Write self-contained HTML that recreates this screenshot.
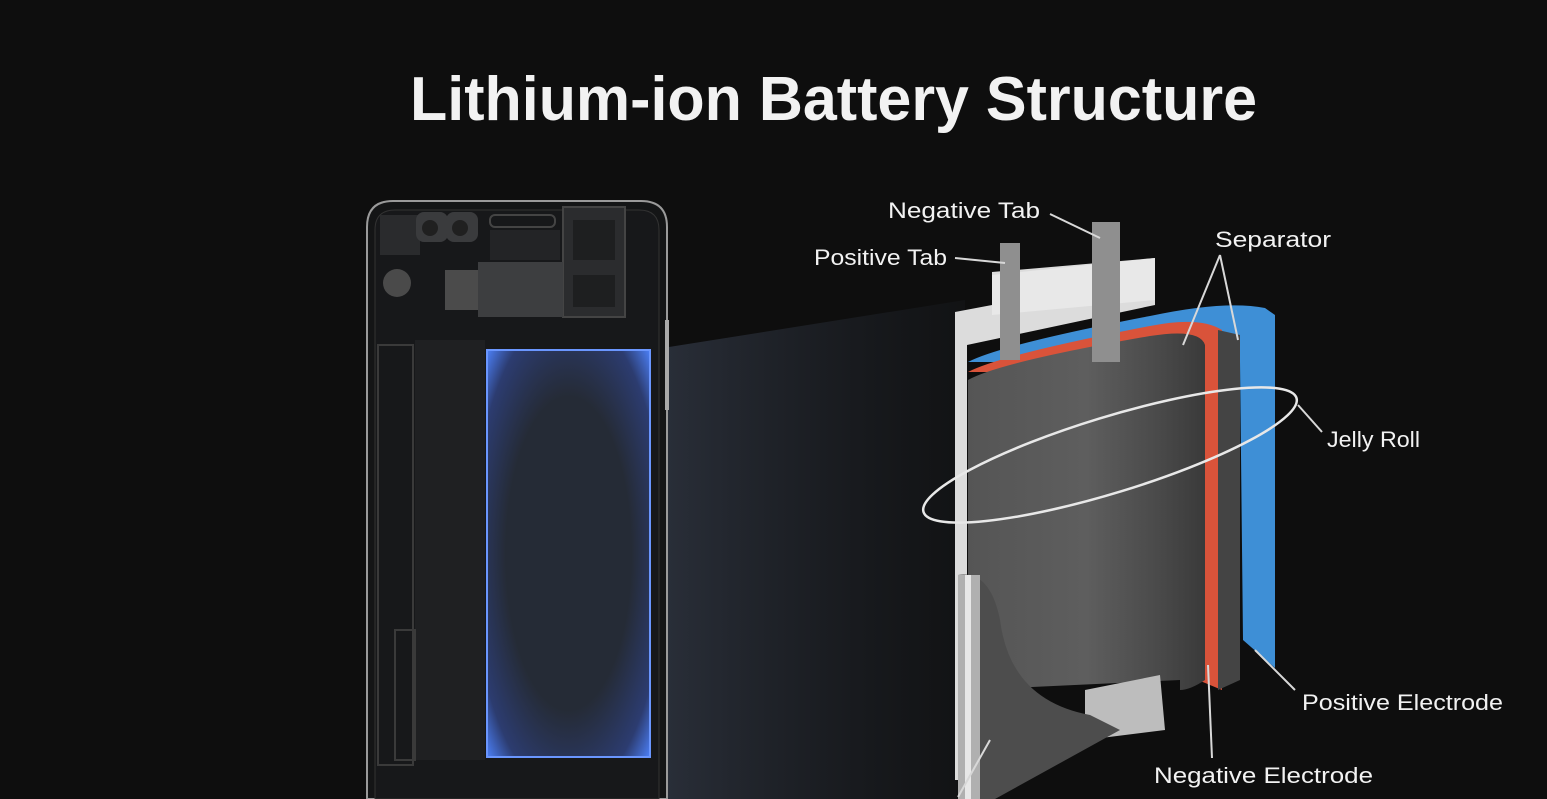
<!DOCTYPE html>
<html><head><meta charset="utf-8"><style>
html,body{margin:0;padding:0;background:#0e0e0e;width:1547px;height:799px;overflow:hidden}
svg{display:block}
text{font-family:"Liberation Sans",sans-serif;fill:#f2f2f2}
</style></head><body>
<svg width="1547" height="799" viewBox="0 0 1547 799" xmlns="http://www.w3.org/2000/svg">
<defs>
<linearGradient id="beam" x1="0" y1="0" x2="1" y2="0">
<stop offset="0" stop-color="#2e3440" stop-opacity="0.9"/>
<stop offset="1" stop-color="#15171a" stop-opacity="0.5"/>
</linearGradient>
<radialGradient id="bat" cx="0.5" cy="0.5" r="0.7">
<stop offset="0.55" stop-color="#252b36"/>
<stop offset="0.85" stop-color="#2c3c70"/>
<stop offset="1" stop-color="#4a7cf0"/>
</radialGradient>
<linearGradient id="body" x1="0" y1="0" x2="1" y2="0">
<stop offset="0" stop-color="#555"/>
<stop offset="0.5" stop-color="#5e5e5e"/>
<stop offset="0.8" stop-color="#4a4a4a"/>
<stop offset="1" stop-color="#3a3a3a"/>
</linearGradient>
</defs>
<rect width="1547" height="799" fill="#0e0e0e"/>
<text x="410" y="120" font-size="62" font-weight="bold" textLength="847" lengthAdjust="spacingAndGlyphs">Lithium-ion Battery Structure</text>

<polygon points="650,350 965,300 965,799 650,799" fill="url(#beam)"/>

<!-- phone -->
<path d="M367,799 L367,227 Q367,201 393,201 L641,201 Q667,201 667,227 L667,799 Z" fill="#141516" stroke="#9a9a9a" stroke-width="2"/>
<path d="M375,799 L375,230 Q375,210 395,210 L639,210 Q659,210 659,230 L659,799 Z" fill="#17181a" stroke="#333" stroke-width="1"/>
<rect x="380" y="215" width="40" height="40" fill="#2a2b2d"/>
<rect x="416" y="212" width="32" height="30" rx="8" fill="#3a3b3d"/>
<circle cx="430" cy="228" r="8" fill="#202020"/>
<rect x="446" y="212" width="32" height="30" rx="8" fill="#3a3b3d"/>
<circle cx="460" cy="228" r="8" fill="#202020"/>
<rect x="490" y="215" width="65" height="12" rx="5" fill="none" stroke="#444" stroke-width="2"/>
<rect x="490" y="230" width="70" height="30" fill="#232426"/>
<rect x="563" y="207" width="62" height="110" fill="#2b2c2e" stroke="#444" stroke-width="2"/>
<rect x="573" y="220" width="42" height="40" fill="#1e1f20"/>
<rect x="573" y="275" width="42" height="32" fill="#1e1f20"/>
<circle cx="397" cy="283" r="14" fill="#4a4a4a"/>
<rect x="445" y="270" width="35" height="40" fill="#4b4b4b"/>
<rect x="478" y="262" width="85" height="55" fill="#3d3e40"/>
<rect x="415" y="340" width="70" height="420" fill="#1f2022"/>
<rect x="378" y="345" width="35" height="420" fill="none" stroke="#3a3a3a" stroke-width="2"/>
<rect x="395" y="630" width="20" height="130" fill="none" stroke="#3a3a3a" stroke-width="2"/>
<rect x="487" y="350" width="163" height="407" fill="url(#bat)" stroke="#6a96ff" stroke-width="2"/>
<rect x="665" y="320" width="4" height="90" fill="#aaa"/>

<!-- battery -->
<polygon points="955,312 992,305 992,272 1155,258 1155,305 967,345 967,780 955,780" fill="#dcdcdc"/>
<polygon points="992,275 1155,258 1155,300 992,315" fill="#e8e8e8"/>
<path d="M968,362 Q1000,345 1150,316 Q1225,300 1265,308 L1275,315 L1275,668 L1243,640 L1240,362 Z" fill="#3e8fd6"/>
<path d="M968,372 Q1000,355 1150,326 Q1200,316 1222,330 L1222,690 L1198,680 L1198,372 Z" fill="#d9533a"/>
<path d="M1218,330 L1240,335 L1240,680 L1218,690 Z" fill="#444"/>
<path d="M968,380 Q1000,362 1150,336 Q1200,328 1205,345 L1205,680 Q1190,690 1180,690 L1180,680 L968,690 Z" fill="url(#body)"/>
<polygon points="1085,690 1160,675 1165,730 1085,740" fill="#bdbdbd"/>
<path d="M958,575 Q990,570 1000,620 Q1010,700 1090,715 L1120,730 L995,799 L958,799 Z" fill="#4d4d4d"/>
<rect x="958" y="575" width="22" height="224" fill="#b0b0b0"/>
<rect x="965" y="575" width="6" height="224" fill="#e8e8e8"/>
<rect x="1000" y="243" width="20" height="117" fill="#8f8f8f"/>
<rect x="1092" y="222" width="28" height="140" fill="#8f8f8f"/>
<ellipse cx="1110" cy="455" rx="195" ry="38" transform="rotate(-17 1110 455)" fill="none" stroke="#e8e8e8" stroke-width="2.5"/>

<g stroke="#d8d8d8" stroke-width="2" fill="none">
<line x1="955" y1="258" x2="1005" y2="263"/>
<line x1="1050" y1="214" x2="1100" y2="238"/>
<line x1="1220" y1="255" x2="1183" y2="345"/>
<line x1="1220" y1="255" x2="1238" y2="340"/>
<line x1="1298" y1="405" x2="1322" y2="432"/>
<line x1="1255" y1="650" x2="1295" y2="690"/>
<line x1="1208" y1="665" x2="1212" y2="758"/>
<line x1="990" y1="740" x2="958" y2="797"/>
</g>
<text x="888" y="218" font-size="22" textLength="152" lengthAdjust="spacingAndGlyphs">Negative Tab</text>
<text x="814" y="265" font-size="22" textLength="133" lengthAdjust="spacingAndGlyphs">Positive Tab</text>
<text x="1215" y="247" font-size="22" textLength="116" lengthAdjust="spacingAndGlyphs">Separator</text>
<text x="1327" y="447" font-size="22" textLength="93" lengthAdjust="spacingAndGlyphs">Jelly Roll</text>
<text x="1302" y="710" font-size="22" textLength="201" lengthAdjust="spacingAndGlyphs">Positive Electrode</text>
<text x="1154" y="783" font-size="22" textLength="219" lengthAdjust="spacingAndGlyphs">Negative Electrode</text>
</svg>
</body></html>
